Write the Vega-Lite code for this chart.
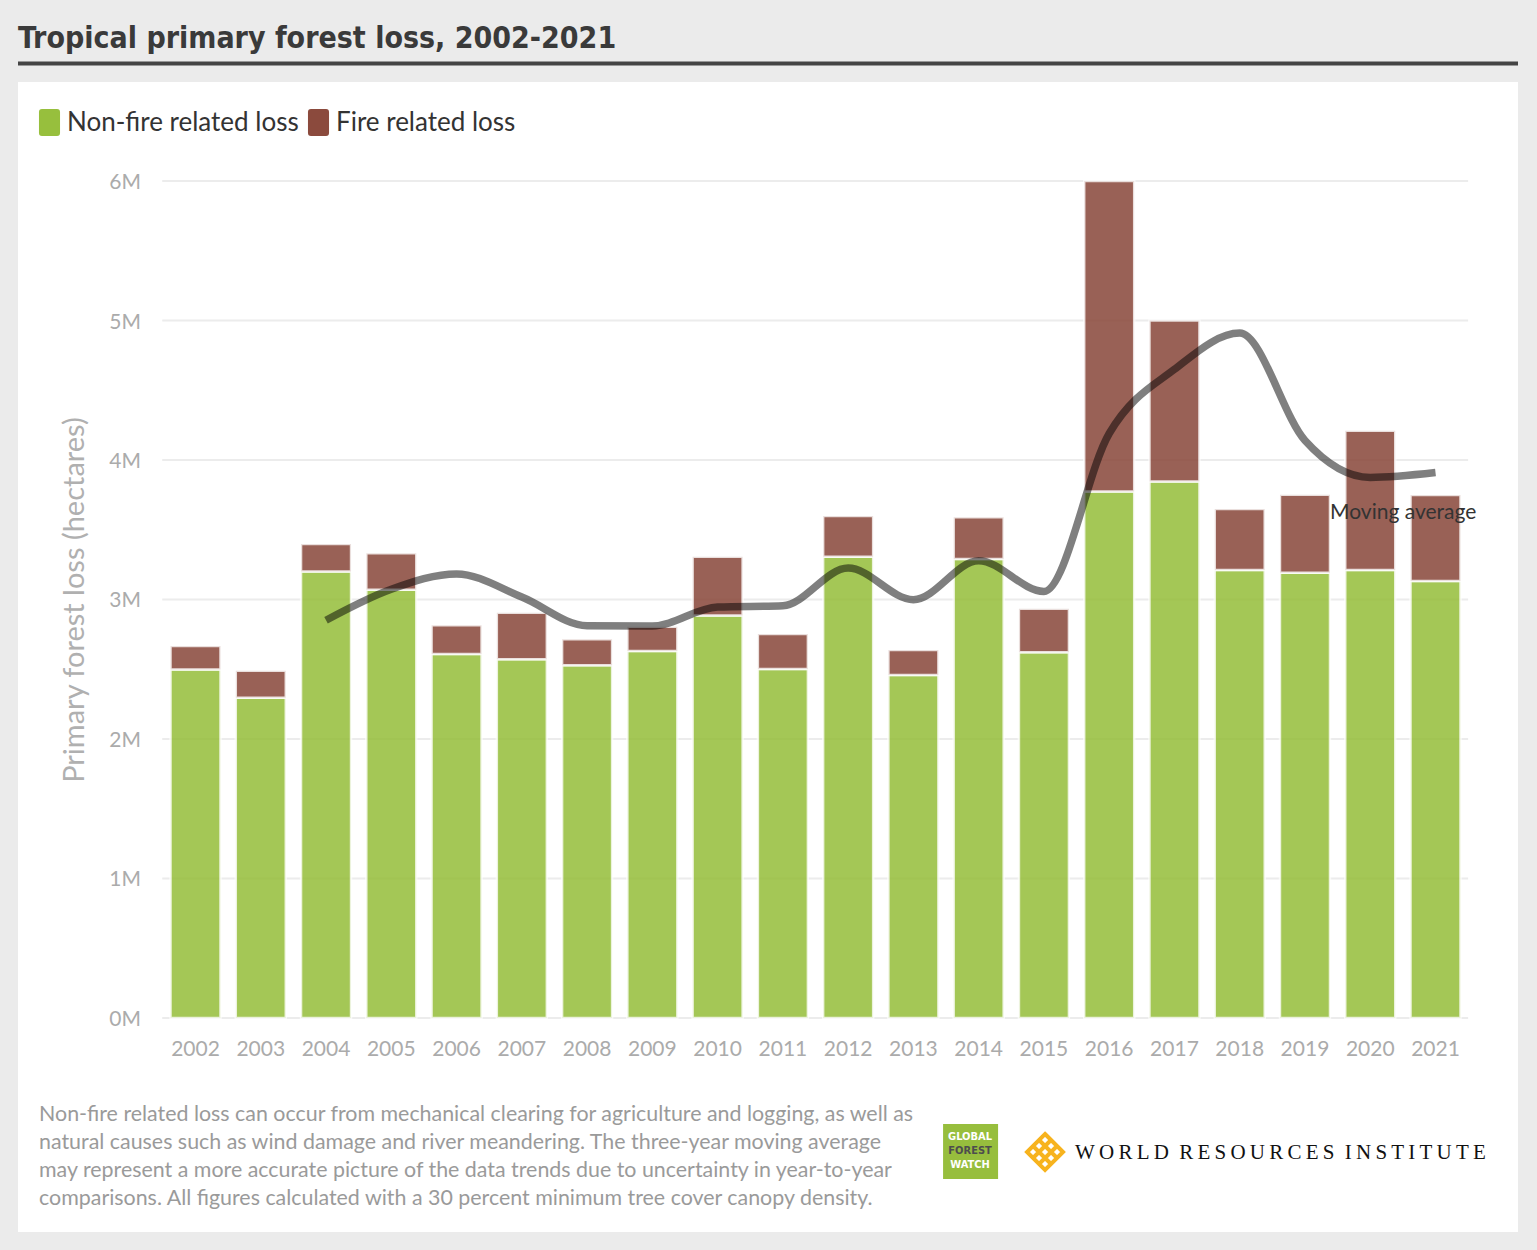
{
  "$schema": "https://vega.github.io/schema/vega-lite/v6.json",
  "width": 1500,
  "height": 1150,
  "autosize": {"type": "none"},
  "padding": {"left": 18, "top": 82, "right": 19, "bottom": 18},
  "background": "#ebebeb",
  "title": {
    "text": "Tropical primary forest loss, 2002-2021",
    "anchor": "start",
    "frame": "group",
    "font": "DejaVu Sans Condensed, Roboto",
    "fontSize": 30,
    "fontWeight": "bold",
    "color": "#3a3a3a",
    "baseline": "alphabetic",
    "offset": -16
  },
  "config": {
    "view": {"fill": "white", "stroke": null},
    "font": "Lato",
    "axis": {"domain": false, "ticks": false, "grid": false, "labels": false, "title": null}
  },
  "layer": [
    {
      "data": {"values": [
        {"v": 0, "label": "0M"}, {"v": 1000000, "label": "1M"}, {"v": 2000000, "label": "2M"},
        {"v": 3000000, "label": "3M"}, {"v": 4000000, "label": "4M"}, {"v": 5000000, "label": "5M"}, {"v": 6000000, "label": "6M"}
      ]},
      "mark": {"type": "rule", "color": "#ececec", "strokeWidth": 2},
      "encoding": {
        "y": {"field": "v", "type": "quantitative", "scale": {"domain": [-1534100, 6709700], "nice": false, "zero": false, "padding": 0}, "axis": null},
        "x": {"datum": 2001.49, "type": "quantitative", "scale": {"domain": [1999.28, 2022.264], "nice": false, "zero": false, "padding": 0}, "axis": null},
        "x2": {"datum": 2021.5}
      }
    },
    {
      "data": {"values": [
        {"v": 0, "label": "0M"}, {"v": 1000000, "label": "1M"}, {"v": 2000000, "label": "2M"},
        {"v": 3000000, "label": "3M"}, {"v": 4000000, "label": "4M"}, {"v": 5000000, "label": "5M"}, {"v": 6000000, "label": "6M"}
      ]},
      "mark": {"type": "text", "align": "right", "baseline": "middle", "dy": 2, "font": "Lato", "fontSize": 21, "color": "#ababab"},
      "encoding": {
        "text": {"field": "label"},
        "y": {"field": "v", "type": "quantitative", "scale": {"domain": [-1534100, 6709700], "nice": false, "zero": false, "padding": 0}, "axis": null},
        "x": {"datum": 2001.165, "type": "quantitative", "scale": {"domain": [1999.28, 2022.264], "nice": false, "zero": false, "padding": 0}, "axis": null}
      }
    },
    {
      "data": {"values": [{"t": "Primary forest loss (hectares)"}]},
      "mark": {"type": "text", "align": "center", "baseline": "middle", "angle": 270, "font": "Lato", "fontSize": 29, "color": "#b0b0b0"},
      "encoding": {
        "text": {"field": "t"},
        "x": {"datum": 2000.1535, "type": "quantitative", "scale": {"domain": [1999.28, 2022.264], "nice": false, "zero": false, "padding": 0}, "axis": null},
        "y": {"datum": 2996000, "type": "quantitative", "scale": {"domain": [-1534100, 6709700], "nice": false, "zero": false, "padding": 0}, "axis": null}
      }
    },
    {
      "data": {"values": [
        {"year": 2002}, {"year": 2003}, {"year": 2004}, {"year": 2005}, {"year": 2006}, {"year": 2007}, {"year": 2008},
        {"year": 2009}, {"year": 2010}, {"year": 2011}, {"year": 2012}, {"year": 2013}, {"year": 2014}, {"year": 2015},
        {"year": 2016}, {"year": 2017}, {"year": 2018}, {"year": 2019}, {"year": 2020}, {"year": 2021}
      ]},
      "mark": {"type": "text", "align": "center", "baseline": "middle", "font": "Lato", "fontSize": 21, "color": "#ababab"},
      "encoding": {
        "text": {"field": "year", "type": "nominal"},
        "x": {"field": "year", "type": "quantitative", "scale": {"domain": [1999.28, 2022.264], "nice": false, "zero": false, "padding": 0}, "axis": null},
        "y": {"datum": -229000, "type": "quantitative", "scale": {"domain": [-1534100, 6709700], "nice": false, "zero": false, "padding": 0}, "axis": null}
      }
    },
    {
      "data": {"values": [{}]},
      "mark": {"type": "rule", "color": "#444444", "strokeWidth": 4},
      "encoding": {
        "y": {"datum": 6842300, "type": "quantitative", "scale": {"domain": [-1534100, 6709700], "nice": false, "zero": false, "padding": 0}, "axis": null},
        "x": {"datum": 1999.28, "type": "quantitative", "scale": {"domain": [1999.28, 2022.264], "nice": false, "zero": false, "padding": 0}, "axis": null},
        "x2": {"datum": 2022.264}
      }
    },
    {
      "data": {"values": [
        {"year": 2002, "type": "Non-fire related loss", "loss": 2499000}, {"year": 2002, "type": "Fire related loss", "loss": 168000},
        {"year": 2003, "type": "Non-fire related loss", "loss": 2296000}, {"year": 2003, "type": "Fire related loss", "loss": 194000},
        {"year": 2004, "type": "Non-fire related loss", "loss": 3201000}, {"year": 2004, "type": "Fire related loss", "loss": 197000},
        {"year": 2005, "type": "Non-fire related loss", "loss": 3070000}, {"year": 2005, "type": "Fire related loss", "loss": 261000},
        {"year": 2006, "type": "Non-fire related loss", "loss": 2609000}, {"year": 2006, "type": "Fire related loss", "loss": 206000},
        {"year": 2007, "type": "Non-fire related loss", "loss": 2571000}, {"year": 2007, "type": "Fire related loss", "loss": 334000},
        {"year": 2008, "type": "Non-fire related loss", "loss": 2528000}, {"year": 2008, "type": "Fire related loss", "loss": 187000},
        {"year": 2009, "type": "Non-fire related loss", "loss": 2631000}, {"year": 2009, "type": "Fire related loss", "loss": 174000},
        {"year": 2010, "type": "Non-fire related loss", "loss": 2886000}, {"year": 2010, "type": "Fire related loss", "loss": 421000},
        {"year": 2011, "type": "Non-fire related loss", "loss": 2502000}, {"year": 2011, "type": "Fire related loss", "loss": 251000},
        {"year": 2012, "type": "Non-fire related loss", "loss": 3307000}, {"year": 2012, "type": "Fire related loss", "loss": 292000},
        {"year": 2013, "type": "Non-fire related loss", "loss": 2459000}, {"year": 2013, "type": "Fire related loss", "loss": 179000},
        {"year": 2014, "type": "Non-fire related loss", "loss": 3290000}, {"year": 2014, "type": "Fire related loss", "loss": 299000},
        {"year": 2015, "type": "Non-fire related loss", "loss": 2621000}, {"year": 2015, "type": "Fire related loss", "loss": 313000},
        {"year": 2016, "type": "Non-fire related loss", "loss": 3775000}, {"year": 2016, "type": "Fire related loss", "loss": 2225000},
        {"year": 2017, "type": "Non-fire related loss", "loss": 3845000}, {"year": 2017, "type": "Fire related loss", "loss": 1155000},
        {"year": 2018, "type": "Non-fire related loss", "loss": 3211000}, {"year": 2018, "type": "Fire related loss", "loss": 438000},
        {"year": 2019, "type": "Non-fire related loss", "loss": 3192000}, {"year": 2019, "type": "Fire related loss", "loss": 559000},
        {"year": 2020, "type": "Non-fire related loss", "loss": 3211000}, {"year": 2020, "type": "Fire related loss", "loss": 999000},
        {"year": 2021, "type": "Non-fire related loss", "loss": 3133000}, {"year": 2021, "type": "Fire related loss", "loss": 616000}
      ]},
      "mark": {"type": "bar", "width": 50, "opacity": 0.87, "stroke": "white", "strokeWidth": 2.5, "strokeOpacity": 0.8},
      "encoding": {
        "x": {"field": "year", "type": "quantitative", "scale": {"domain": [1999.28, 2022.264], "nice": false, "zero": false, "padding": 0}, "axis": null},
        "y": {"field": "loss", "type": "quantitative", "stack": "zero", "scale": {"domain": [-1534100, 6709700], "nice": false, "zero": false, "padding": 0}, "axis": null},
        "order": {"field": "type", "sort": "descending"},
        "color": {
          "field": "type", "type": "nominal",
          "sort": ["Non-fire related loss", "Fire related loss"],
          "scale": {"domain": ["Non-fire related loss", "Fire related loss"], "range": ["#97bf3d", "#8b4a3d"]},
          "legend": {
            "title": null,
            "orient": "none",
            "legendX": 18,
            "legendY": 27,
            "direction": "horizontal",
            "padding": 0,
            "symbolType": "M-0.78,-0.78Q-0.78,-1,-0.56,-1L0.56,-1Q0.78,-1,0.78,-0.78L0.78,0.78Q0.78,1,0.56,1L-0.56,1Q-0.78,1,-0.78,0.78Z",
            "symbolSize": 729,
            "symbolOpacity": 1,
            "symbolStrokeWidth": 0,
            "labelFont": "Lato", "labelFontSize": 26, "labelColor": "#333333",
            "labelOffset": 4,
            "columnPadding": 6,
            "labelLimit": 400
          }
        }
      }
    },
    {
      "data": {"values": [
        {"year": 2004, "avg": 2851000}, {"year": 2005, "avg": 3073000}, {"year": 2006, "avg": 3183000},
        {"year": 2007, "avg": 3018000}, {"year": 2008, "avg": 2812000}, {"year": 2009, "avg": 2810000},
        {"year": 2010, "avg": 2946000}, {"year": 2011, "avg": 2955000}, {"year": 2012, "avg": 3225000},
        {"year": 2013, "avg": 2999000}, {"year": 2014, "avg": 3278000}, {"year": 2015, "avg": 3058000},
        {"year": 2016, "avg": 4190000}, {"year": 2017, "avg": 4650000}, {"year": 2018, "avg": 4910000},
        {"year": 2019, "avg": 4140000}, {"year": 2020, "avg": 3875000}, {"year": 2021, "avg": 3910000}
      ]},
      "mark": {"type": "line", "interpolate": "monotone", "color": "#000000", "opacity": 0.5, "strokeWidth": 7.5, "strokeCap": "butt"},
      "encoding": {
        "x": {"field": "year", "type": "quantitative", "scale": {"domain": [1999.28, 2022.264], "nice": false, "zero": false, "padding": 0}, "axis": null},
        "y": {"field": "avg", "type": "quantitative", "scale": {"domain": [-1534100, 6709700], "nice": false, "zero": false, "padding": 0}, "axis": null}
      }
    },
    {
      "data": {"values": [{"label": "Moving average"}]},
      "mark": {"type": "text", "align": "left", "baseline": "middle", "font": "Lato", "fontSize": 21, "color": "#333333"},
      "encoding": {
        "text": {"field": "label"},
        "x": {"datum": 2019.384, "type": "quantitative", "scale": {"domain": [1999.28, 2022.264], "nice": false, "zero": false, "padding": 0}, "axis": null},
        "y": {"datum": 3620000, "type": "quantitative", "scale": {"domain": [-1534100, 6709700], "nice": false, "zero": false, "padding": 0}, "axis": null}
      }
    },
    {
      "data": {"values": [{"note": [
        "Non-fire related loss can occur from mechanical clearing for agriculture and logging, as well as",
        "natural causes such as wind damage and river meandering. The three-year moving average",
        "may represent a more accurate picture of the data trends due to uncertainty in year-to-year",
        "comparisons. All figures calculated with a 30 percent minimum tree cover canopy density."
      ]}]},
      "mark": {"type": "text", "align": "left", "baseline": "top", "font": "Lato", "fontSize": 21.4, "lineHeight": 28, "color": "#9a9a9a"},
      "encoding": {
        "text": {"field": "note"},
        "x": {"datum": 1999.602, "type": "quantitative", "scale": {"domain": [1999.28, 2022.264], "nice": false, "zero": false, "padding": 0}, "axis": null},
        "y": {"datum": -620000, "type": "quantitative", "scale": {"domain": [-1534100, 6709700], "nice": false, "zero": false, "padding": 0}, "axis": null}
      }
    },
    {
      "data": {"values": [{"logo": "Global Forest Watch"}]},
      "mark": {"type": "point", "shape": "square", "size": 3025, "filled": true, "color": "#97be3d", "opacity": 1},
      "encoding": {
        "x": {"datum": 2013.876, "type": "quantitative", "scale": {"domain": [1999.28, 2022.264], "nice": false, "zero": false, "padding": 0}, "axis": null},
        "y": {"datum": -957000, "type": "quantitative", "scale": {"domain": [-1534100, 6709700], "nice": false, "zero": false, "padding": 0}, "axis": null}
      }
    },
    {
      "data": {"values": [{"t": "GLOBAL"}]},
      "mark": {"type": "text", "align": "center", "baseline": "middle", "font": "DejaVu Sans Condensed, Roboto", "fontWeight": "bold", "fontSize": 11, "color": "#ffffff"},
      "encoding": {
        "text": {"field": "t"},
        "x": {"datum": 2013.868, "type": "quantitative", "scale": {"domain": [1999.28, 2022.264], "nice": false, "zero": false, "padding": 0}, "axis": null},
        "y": {"datum": -853000, "type": "quantitative", "scale": {"domain": [-1534100, 6709700], "nice": false, "zero": false, "padding": 0}, "axis": null}
      }
    },
    {
      "data": {"values": [{"t": "FOREST"}]},
      "mark": {"type": "text", "align": "center", "baseline": "middle", "font": "DejaVu Sans Condensed, Roboto", "fontWeight": "bold", "fontSize": 11, "color": "#4d4d4d"},
      "encoding": {
        "text": {"field": "t"},
        "x": {"datum": 2013.868, "type": "quantitative", "scale": {"domain": [1999.28, 2022.264], "nice": false, "zero": false, "padding": 0}, "axis": null},
        "y": {"datum": -953400, "type": "quantitative", "scale": {"domain": [-1534100, 6709700], "nice": false, "zero": false, "padding": 0}, "axis": null}
      }
    },
    {
      "data": {"values": [{"t": "WATCH"}]},
      "mark": {"type": "text", "align": "center", "baseline": "middle", "font": "DejaVu Sans Condensed, Roboto", "fontWeight": "bold", "fontSize": 11, "color": "#ffffff"},
      "encoding": {
        "text": {"field": "t"},
        "x": {"datum": 2013.868, "type": "quantitative", "scale": {"domain": [1999.28, 2022.264], "nice": false, "zero": false, "padding": 0}, "axis": null},
        "y": {"datum": -1053800, "type": "quantitative", "scale": {"domain": [-1534100, 6709700], "nice": false, "zero": false, "padding": 0}, "axis": null}
      }
    },
    {
      "data": {"values": [{"logo": "World Resources Institute"}]},
      "mark": {"type": "point", "shape": "M0,-1L1,0L0,1L-1,0Z M-0.667,0.333L0.333,-0.667 M-0.333,0.667L0.667,-0.333 M-0.667,-0.333L0.333,0.667 M-0.333,-0.667L0.667,0.333", "size": 1296, "filled": false, "stroke": "#f7b31e", "strokeWidth": 4, "opacity": 1},
      "encoding": {
        "x": {"datum": 2015.017, "type": "quantitative", "scale": {"domain": [1999.28, 2022.264], "nice": false, "zero": false, "padding": 0}, "axis": null},
        "y": {"datum": -960600, "type": "quantitative", "scale": {"domain": [-1534100, 6709700], "nice": false, "zero": false, "padding": 0}, "axis": null}
      }
    },
    {
      "data": {"values": [{"t": "W\u2009O\u2009R\u2009L\u2009D\u2002R\u2009E\u2009S\u2009O\u2009U\u2009R\u2009C\u2009E\u2009S\u2002I\u2009N\u2009S\u2009T\u2009I\u2009T\u2009U\u2009T\u2009E"}]},
      "mark": {"type": "text", "align": "left", "baseline": "middle", "font": "Liberation Serif", "fontSize": 21, "color": "#111111"},
      "encoding": {
        "text": {"field": "t"},
        "x": {"datum": 2015.477, "type": "quantitative", "scale": {"domain": [1999.28, 2022.264], "nice": false, "zero": false, "padding": 0}, "axis": null},
        "y": {"datum": -967700, "type": "quantitative", "scale": {"domain": [-1534100, 6709700], "nice": false, "zero": false, "padding": 0}, "axis": null}
      }
    }
  ]
}
